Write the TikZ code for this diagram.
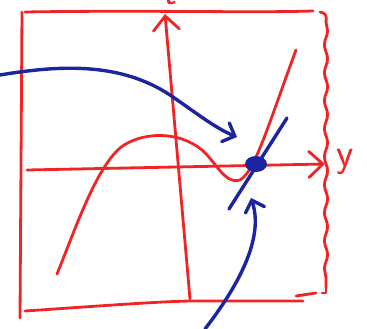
\documentclass[tikz,border=0pt]{standalone}
\usepackage{tikz}
\usetikzlibrary{arrows.meta,shapes.geometric,decorations.pathmorphing}

\definecolor{penred}{RGB}{240,36,36}
\definecolor{penblue}{RGB}{28,36,160}

\begin{document}
\begin{tikzpicture}[
    x=1pt, y=-1pt,
    redpen/.style={draw=penred, line width=2.8pt, line cap=round, line join=round},
    bluepen/.style={draw=penblue, line width=3.4pt, line cap=round, line join=round},
    axisbarb/.style={-{Straight Barb[length=14pt, width=26pt, line cap=round]}},
    pointbarb/.style={-{Straight Barb[length=10pt, width=20pt, line cap=round]}},
    axislabel/.style={text=penred, font=\sffamily\fontsize{40}{40}\selectfont, inner sep=0pt}
]
    \useasboundingbox (0,0) rectangle (367,329);

    % Frame
    \draw[redpen] (22,12) -- (20,318);
    \draw[redpen] (25,12) .. controls (150,10) and (250,13) .. (313,11);
    \draw[redpen] (320,12) .. controls (326,13) and (327,16) .. (326,22);
    \draw[redpen, decorate, decoration={snake, amplitude=1.6pt, segment length=28pt}] (326,22) -- (326,288);
    \draw[redpen] (326,288) -- (326,293) -- (322,293);
    \draw[redpen] (25,311) .. controls (100,306) and (150,302) .. (190,301) -- (303,301);
    \draw[redpen] (296,296) -- (316,293);

    % Axes
    \coordinate (yfoot) at (27,170);
    \coordinate (yhead) at (325,164);
    \coordinate (vfoot) at (190,299);
    \coordinate (vhead) at (165,14);
    \draw[redpen, axisbarb] (yfoot) -- (yhead);
    \draw[redpen, axisbarb] (vfoot) -- (vhead);
    \node[axislabel, anchor=west] (ylabel) at (336,162) {y};
    \node[axislabel, anchor=south] (tlabel) at (170,5) {t};

    % Curve
    \draw[redpen] (57,274) .. controls (75,230) and (95,170) .. (120,148)
        .. controls (140,132) and (178,130) .. (202,150)
        .. controls (216,162) and (225,185) .. (240,180)
        .. controls (255,172) and (270,120) .. (296,50);

    % Tangent line and point
    \coordinate (tanlow) at (229,209);
    \coordinate (tanhigh) at (287,118);
    \draw[bluepen] (tanlow) -- (tanhigh);
    \node[ellipse, fill=penblue, minimum width=22pt, minimum height=16pt, inner sep=0pt] (eq) at (256,164) {};

    % Pointers
    \coordinate (lstart) at (0,75);
    \coordinate (ltip) at (237,137);
    \coordinate (bstart) at (205,329);
    \coordinate (btip) at (251,198);
    \draw[bluepen, pointbarb] (lstart) .. controls (60,65) and (120,62) .. (170,95)
        .. controls (195,112) and (215,128) .. (ltip);
    \draw[bluepen, pointbarb] (bstart) .. controls (235,290) and (265,240) .. (btip);

\end{tikzpicture}
\end{document}
